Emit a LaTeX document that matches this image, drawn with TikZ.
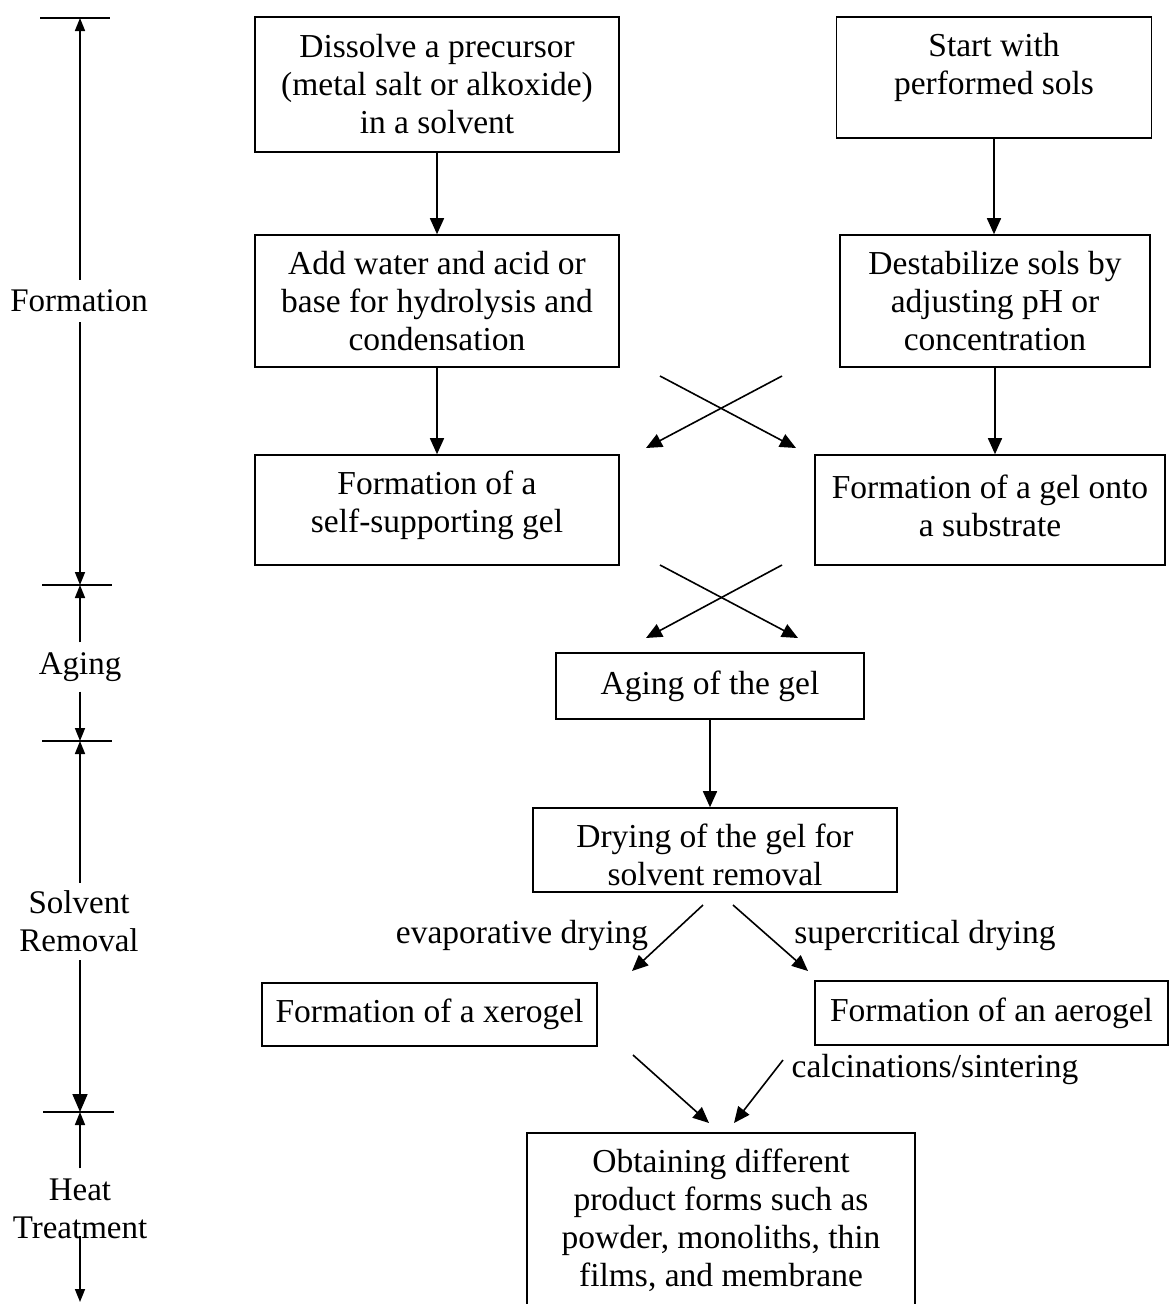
\documentclass[tikz,border=0pt]{standalone}
\usepackage{fontspec}
\setmainfont{Liberation Serif}
\usetikzlibrary{arrows.meta}
\tikzset{
  box/.style={draw, line width=1.6pt, inner sep=0pt, align=center,
              font=\fontsize{33.5}{38}\selectfont},
  txt/.style={inner sep=0pt, align=center, font=\fontsize{33.5}{38}\selectfont},
  stage/.style={inner xsep=2pt, inner ysep=10pt, align=center,
                font=\fontsize{33}{38}\selectfont},
  arr/.style={line width=1.6pt, -{Triangle[length=16pt,width=14pt]}},
  axarr/.style={line width=1.7pt, -{Triangle[length=13pt,width=10pt]}},
  bigaxarr/.style={line width=1.7pt, -{Triangle[length=18pt,width=15pt]}},
  tick/.style={line width=1.7pt},
}
\begin{document}
\begin{tikzpicture}[x=1pt, y=-1pt]
\useasboundingbox (0,0) rectangle (1169,1304);

% ---- process boxes ----
\node[box, minimum width=364pt, minimum height=135pt] (dissolve) at (437,84.5)
  {Dissolve a precursor\\(metal salt or alkoxide)\\in a solvent};
\node[box, minimum width=315pt, minimum height=121pt] (start) at (994,77.5) {};
\node[txt] (startlbl) at (994,67) {Start with\\performed sols};

\node[box, minimum width=364pt, minimum height=132pt] (water) at (437,301)
  {Add water and acid or\\base for hydrolysis and\\condensation};
\node[box, minimum width=310pt, minimum height=132pt] (destab) at (995,301)
  {Destabilize sols by\\adjusting pH or\\concentration};

\node[box, minimum width=364pt, minimum height=110pt] (selfgel) at (437,510) {};
\node[txt] (selfgellbl) at (437,505.5) {Formation of a\\self-supporting gel};
\node[box, minimum width=350pt, minimum height=110pt] (subgel) at (990,510) {};
\node[txt] (subgellbl) at (990,505.5) {Formation of a gel onto\\a substrate};

\node[box, minimum width=308pt, minimum height=66pt] (aging) at (710,686)
  {Aging of the gel};
\node[box, minimum width=364pt, minimum height=84pt] (drying) at (715,850) {};
\node[txt] (dryinglbl) at (715,854.5) {Drying of the gel for\\solvent removal};

\node[box, minimum width=335pt, minimum height=63pt] (xero) at (429.5,1014.5)
  {Formation of a xerogel};
\node[box, minimum width=353pt, minimum height=64pt] (aero) at (991.5,1013)
  {Formation of an aerogel};

\node[box, minimum width=388pt, minimum height=174pt] (product) at (721,1220)
  {Obtaining different\\product forms such as\\powder, monoliths, thin\\films, and membrane};

% ---- straight connectors ----
\draw[arr] (dissolve.south) -- (dissolve.south |- water.north);
\draw[arr] (start.south) -- (start.south |- destab.north);
\draw[arr] (water.south) -- (water.south |- selfgel.north);
\draw[arr] (destab.south) -- (destab.south |- subgel.north);
\draw[arr] (aging.south) -- (aging.south |- drying.north);

% ---- crossing connectors ----
\coordinate (xa1) at (660,376);  \coordinate (xa2) at (796,448);
\coordinate (xb1) at (782,376);  \coordinate (xb2) at (646,448);
\draw[arr] (xa1) -- (xa2);
\draw[arr] (xb1) -- (xb2);

\coordinate (ya1) at (660,565);  \coordinate (ya2) at (798,638);
\coordinate (yb1) at (782,565);  \coordinate (yb2) at (646,638);
\draw[arr] (ya1) -- (ya2);
\draw[arr] (yb1) -- (yb2);

% ---- drying routes ----
\coordinate (da1) at (703,905);  \coordinate (da2) at (632,971);
\coordinate (db1) at (733,905);  \coordinate (db2) at (808,971);
\draw[arr] (da1) -- (da2);
\draw[arr] (db1) -- (db2);
\node[txt] (evap) at (522,935) {evaporative drying};
\node[txt] (super) at (925,935) {supercritical drying};

% ---- heat treatment ----
\coordinate (ha1) at (633,1055); \coordinate (ha2) at (709,1123);
\coordinate (hb1) at (783,1060); \coordinate (hb2) at (734,1123);
\draw[arr] (ha1) -- (ha2);
\draw[arr] (hb1) -- (hb2);
\node[txt] (calc) at (935,1069) {calcinations/sintering};

% ---- stage axis ----
\node[stage] (formation) at (79,301) {Formation};
\node[stage] (agingst) at (80,667) {Aging};
\node[stage, inner ysep=8pt] (solvent) at (79,921.5) {Solvent\\Removal};
\node[stage] (heat) at (80,1208.5) {Heat\\Treatment};

\coordinate (t0) at (80,18);
\coordinate (t1) at (80,585);
\coordinate (t2) at (80,741);
\coordinate (t3) at (80,1112);
\coordinate (t4) at (80,1302);
\coordinate (heatbot) at (80,1236);

\draw[tick] (40,18) -- (110,18);
\draw[tick] (42,585) -- (112,585);
\draw[tick] (42,741) -- (112,741);
\draw[tick] (43,1112) -- (114,1112);

\draw[axarr] (t0 |- formation.north) -- (t0);
\draw[axarr] (t0 |- formation.south) -- (t1);
\draw[axarr] (t0 |- agingst.north) -- (t1);
\draw[axarr] (t0 |- agingst.south) -- (t2);
\draw[axarr] (t0 |- solvent.north) -- (t2);
\draw[bigaxarr] (t0 |- solvent.south) -- (t3);
\draw[axarr] (t0 |- heat.north) -- (t3);
\draw[axarr] (heatbot) -- (t4);
\end{tikzpicture}
\end{document}
